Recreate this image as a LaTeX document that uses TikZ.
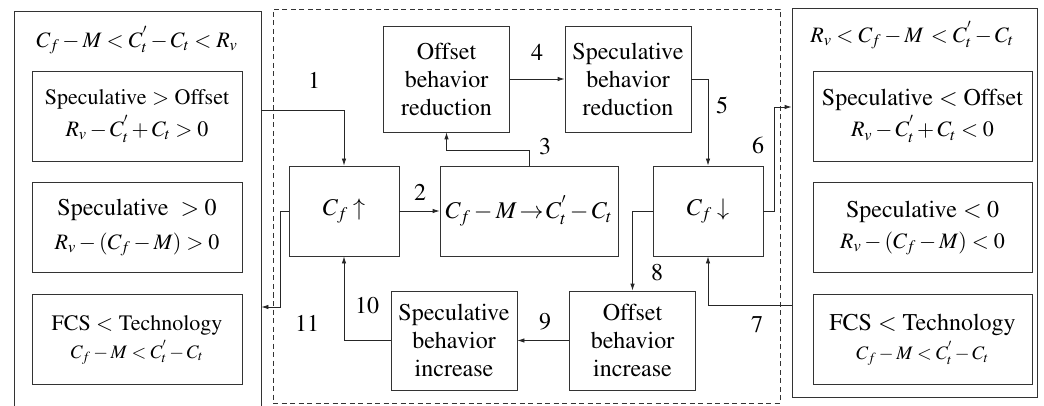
\documentclass[tikz,border=0pt]{standalone}
\usepackage[T1]{fontenc}
\usepackage{mathptmx}
\usetikzlibrary{arrows.meta,positioning,fit}
\newcommand{\mathsz}{\fontsize{22}{26}\selectfont}
\tikzset{
  flow/.style={-{Latex[length=7pt,width=4.5pt]},line width=0.8pt,draw=black!85},
  box/.style={draw=black!80,line width=0.8pt,align=center,inner sep=0pt,
              font=\fontsize{24}{28}\selectfont},
  panel/.style={draw=black!80,line width=0.8pt,inner sep=0pt},
  condbox/.style={box,minimum width=210pt,minimum height=90pt},
  rcondbox/.style={condbox,minimum width=219pt},
  actbox/.style={box,minimum width=126pt,minimum height=106pt},
  incbox/.style={actbox,minimum height=99pt},
  costbox/.style={box,minimum width=110pt,minimum height=90pt},
  numlab/.style={font=\fontsize{24}{28}\selectfont,inner sep=0pt},
  headlab/.style={font=\mathsz,inner sep=0pt}
}

\begin{document}
\begin{tikzpicture}[x=1pt,y=-1pt,node distance=21pt]
  \useasboundingbox (0,0) rectangle (1044,406);
  % left side: speculation dominates
  \node[panel,fit={(14,11) (261,412)}] (lpanel) {};
  \node[headlab] (ltitle) at (137,40) {$C_f-M<C_t^{'}-C_t<R_v$};
  \node[condbox,font=\fontsize{22}{26}\selectfont] (lcond1) at (137,116)
    {Speculative $>$ Offset\\[6pt] {\mathsz $R_v-C_t^{'}+C_t>0$}};
  \node[condbox,below=of lcond1] (lcond2)
    {Speculative \ $>0$\\[6pt] {\mathsz $R_v-(C_f-M)>0$}};
  \node[condbox,below=of lcond2,font=\fontsize{22}{26}\selectfont] (lcond3)
    {FCS $<$ Technology\\[2pt] {\fontsize{19}{22}\selectfont $C_f-M<C_t^{'}-C_t$}};
  % right side: offset dominates
  \node[panel,fit={(792,8) (1037,397)}] (rpanel) {};
  \node[headlab] (rtitle) at (912,35) {$R_v<C_f-M\,<C_t^{'}-C_t$};
  \node[rcondbox] (rcond1) at (922.5,116)
    {Speculative $<$ Offset\\[3pt] {\mathsz $R_v-C_t^{'}+C_t<0$}};
  \node[rcondbox,below=of rcond1] (rcond2)
    {Speculative $<0$\\[3pt] {\mathsz $R_v-(C_f-M)<0$}};
  \node[rcondbox,below=of rcond2] (rcond3)
    {FCS $<$ Technology\\[1pt] {\fontsize{19}{22}\selectfont $C_f-M<C_t^{'}-C_t$}};
  % middle: adjustment loop
  \node[panel,dashed,dash pattern=on 5pt off 3.5pt,fit={(273,9) (780,403)}] (core) {};
  \node[actbox] (offred) at (446.5,79) {Offset\\behavior\\reduction};
  \node[actbox] (specred) at (628,79) {Speculative\\behavior\\reduction};
  \node[costbox] (cfup) at (344,211) {$C_f\uparrow$};
  \node[box,minimum width=178pt,minimum height=90pt] (gap) at (529,211)
    {$C_f-M\!\rightarrow\! C_t^{'}-C_t$};
  \node[costbox] (cfdown) at (708,211) {$C_f\downarrow$};
  \node[incbox] (specinc) at (454,340.5) {Speculative\\behavior\\increase};
  \node[incbox] (offinc) at (632.5,340.5) {Offset\\behavior\\increase};

  \draw[flow] (lpanel.east |- 0,110) -| (cfup.north);
  \draw[flow] (cfup.east) -- (gap.west);
  \draw[flow] (gap.north) -- ++(0,-15) -| (offred.south);
  \draw[flow] (offred.east) -- (specred.west);
  \draw[flow] (specred.east) -| (cfdown.north);
  \draw[flow] (cfdown.east) -- ++(11,0) |- (rpanel.west |- 0,107);
  \draw[flow] (rpanel.west |- 0,305) -| (cfdown.south);
  \draw[flow] (cfdown.west) -| (offinc.north);
  \draw[flow] (offinc.west) -- (specinc.east);
  \draw[flow] (specinc.west) -| (cfup.south);
  \draw[flow] (cfup.west) -- ++(-8,0) |- (lpanel.east |- 0,307);

  \node[numlab] (n1) at (314,80) {1};
  \node[numlab] (n2) at (420,192) {2};
  \node[numlab] (n3) at (545,146) {3};
  \node[numlab] (n4) at (537,52) {4};
  \node[numlab] (n5) at (722,105) {5};
  \node[numlab] (n6) at (758,145) {6};
  \node[numlab] (n7) at (757,325) {7};
  \node[numlab] (n8) at (657,272) {8};
  \node[numlab] (n9) at (545,322) {9};
  \node[numlab] (n10) at (367,305) {10};
  \node[numlab] (n11) at (307,323) {11};
\end{tikzpicture}
\end{document}
